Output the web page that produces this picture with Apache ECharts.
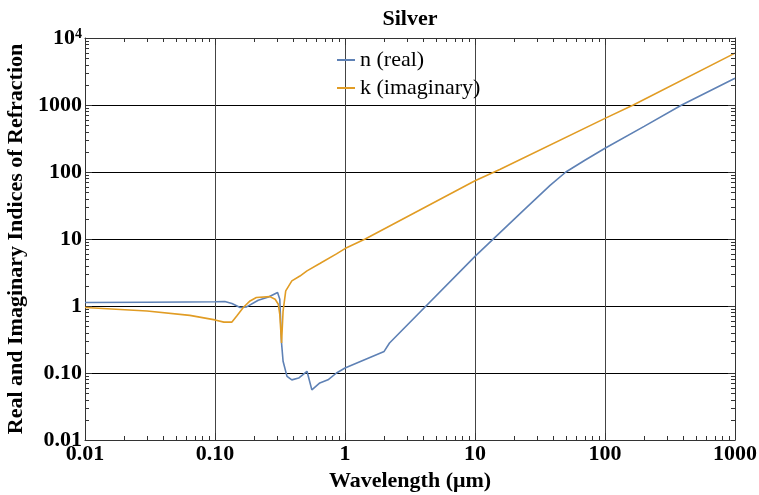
<!DOCTYPE html>
<html lang="en">

<head>
    <meta charset="UTF-8">
    <title>Silver</title>
    <style>
        * {
            padding: 0;
            margin: 0;
        }
    </style>
</head>

<body>
    <div id="chart" style="width: 759px; height: 495px;"></div>
    <script src="https://cdn.jsdelivr.net/npm/echarts@6/dist/echarts.min.js"></script>
    <script>
        // wavelength in micrometres
        const nWave = [0.01, 0.03, 0.06, 0.1, 0.119, 0.135, 0.156, 0.175, 0.215, 0.258, 0.303, 0.315, 0.325, 0.334,
            0.358, 0.39, 0.44, 0.51, 0.556, 0.64, 0.74, 0.86, 1, 2, 2.2, 10, 23.6, 37.8, 50, 70, 100, 200, 389, 1000]
        const nReal = [1.13, 1.14, 1.15, 1.16, 1.17, 1.09, 0.95, 0.97, 1.22, 1.36, 1.59, 1.26, 0.28, 0.15,
            0.089, 0.079, 0.084, 0.106, 0.056, 0.071, 0.079, 0.1, 0.119, 0.21, 0.28, 5.5, 26.7, 63, 100, 150, 226, 480, 1000, 2500]

        const kWave = [0.01, 0.03, 0.064, 0.1, 0.117, 0.135, 0.147, 0.165, 0.186, 0.208, 0.264, 0.29, 0.307, 0.315,
            0.325, 0.334, 0.35, 0.39, 0.45, 0.51, 0.64, 0.86, 1, 1.43, 10, 15.5, 100, 165, 1000]
        const kImag = [0.95, 0.84, 0.725, 0.62, 0.575, 0.575, 0.71, 0.95, 1.19, 1.34, 1.38, 1.26, 1.06, 0.75,
            0.28, 0.84, 1.68, 2.37, 2.8, 3.35, 4.3, 6.0, 7.2, 10, 74, 109, 631, 1000, 5950]

        const xTickLabels = ['0.01', '0.10', '1', '10', '100', '1000']
        const yTickLabels = ['0.01', '0.10', '1', '10', '100', '1000', '10^4']

        const serif = 'Liberation Serif'
        const frameColor = '#333'
        const fs = 22

        function decadeLabel(list, v) {
            const s = list[Math.round(Math.log10(v)) + 2] || ''
            if (s.indexOf('^') > -1) {
                const p = s.split('^')
                return '{b|' + p[0] + '}{sup|' + p[1] + '}'
            }
            return '{b|' + s + '}'
        }

        const labelRich = {
            b: { fontFamily: serif, fontWeight: 'bold', fontSize: fs, color: '#000' },
            sup: { fontFamily: serif, fontWeight: 'bold', fontSize: 14, color: '#000', verticalAlign: 'top' }
        }

        function logAxis(extra) {
            return Object.assign({
                type: 'log',
                logBase: 10,
                axisLine: { show: true, lineStyle: { color: frameColor, width: 1 } },
                axisTick: { show: true, inside: true, length: 7, lineStyle: { color: frameColor } },
                minorTick: { show: false },
            }, extra)
        }

        let mychart = echarts.init(document.getElementById('chart'))

        let options = {
            animation: false,
            textStyle: { fontFamily: serif },
            title: {
                text: 'Silver',
                left: 405,
                top: 3,
                textAlign: 'center',
                textStyle: { fontFamily: serif, fontWeight: 'bold', fontSize: fs, color: '#000' }
            },
            legend: {
                orient: 'vertical',
                left: 337,
                top: 49,
                padding: 0,
                itemGap: 6,
                itemWidth: 18,
                itemHeight: 2,
                icon: 'rect',
                textStyle: { fontFamily: serif, fontSize: fs, color: '#000' },
                data: ['n (real)', 'k (imaginary)']
            },
            grid: {
                left: 85,
                right: 24,
                top: 38,
                bottom: 55,
                containLabel: false,
                outerBoundsMode: 'none'
            },
            xAxis: [
                logAxis({
                    position: 'bottom',
                    min: 0.01,
                    max: 1000,
                    name: 'Wavelength (μm)',
                    nameLocation: 'middle',
                    nameGap: 28,
                    nameTextStyle: { fontFamily: serif, fontWeight: 'bold', fontSize: fs, color: '#000' },
                    axisLabel: {
                        margin: 3,
                        formatter: v => decadeLabel(xTickLabels, v),
                        rich: labelRich
                    },
                    splitLine: { show: true, lineStyle: { color: '#444', width: 1 } }
                }),
                logAxis({
                    position: 'top',
                    min: 0.01,
                    max: 1000,
                    axisLabel: { show: false },
                    splitLine: { show: false }
                })
            ],
            yAxis: [
                logAxis({
                    position: 'left',
                    min: 0.01,
                    max: 10000,
                    name: 'Real and Imaginary Indices of Refraction',
                    nameLocation: 'middle',
                    nameGap: 53,
                    nameTextStyle: { fontFamily: serif, fontWeight: 'bold', fontSize: fs, color: '#000' },
                    axisLabel: {
                        margin: 3,
                        formatter: v => decadeLabel(yTickLabels, v),
                        rich: labelRich
                    },
                    splitLine: { show: true, lineStyle: { color: '#000', width: 1 } }
                }),
                logAxis({
                    position: 'right',
                    min: 0.01,
                    max: 10000,
                    axisLabel: { show: false },
                    splitLine: { show: false }
                })
            ],
            series: [{
                name: 'n (real)',
                type: 'line',
                xAxisIndex: 0,
                yAxisIndex: 0,
                symbol: 'none',
                color: '#5E81B5',
                lineStyle: { width: 1.6 },
                data: nWave.map((w, i) => [w, nReal[i]])
            }, {
                name: 'k (imaginary)',
                type: 'line',
                xAxisIndex: 0,
                yAxisIndex: 0,
                symbol: 'none',
                color: '#E19C24',
                lineStyle: { width: 1.6 },
                data: kWave.map((w, i) => [w, kImag[i]])
            }]
        }

        mychart.setOption(options);

        // minor ticks (2..9 of every decade) on all four sides, placed by the axes themselves
        function px(x, y) {
            return mychart.convertToPixel({ gridIndex: 0 }, [x, y])
        }

        function minorTickGraphics() {
            const els = []
            const len = 4
            const corner0 = px(0.01, 0.01)
            const corner1 = px(1000, 10000)
            const xL = corner0[0], yB = corner0[1], xR = corner1[0], yT = corner1[1]
            const style = () => ({ stroke: frameColor, lineWidth: 1 })
            for (let d = -2; d < 3; d++) {
                for (let m = 2; m < 10; m++) {
                    const x = Math.round(px(m * Math.pow(10, d), 1)[0]) + 0.5
                    els.push({ type: 'line', z: 100, silent: true, shape: { x1: x, y1: yB, x2: x, y2: yB - len }, style: style() })
                    els.push({ type: 'line', z: 100, silent: true, shape: { x1: x, y1: yT, x2: x, y2: yT + len }, style: style() })
                }
            }
            for (let d = -2; d < 4; d++) {
                for (let m = 2; m < 10; m++) {
                    const y = Math.round(px(1, m * Math.pow(10, d))[1]) + 0.5
                    els.push({ type: 'line', z: 100, silent: true, shape: { x1: xL, y1: y, x2: xL + len, y2: y }, style: style() })
                    els.push({ type: 'line', z: 100, silent: true, shape: { x1: xR, y1: y, x2: xR - len, y2: y }, style: style() })
                }
            }
            return els
        }

        mychart.setOption({ graphic: { elements: minorTickGraphics() } });
    </script>
</body>

</html>
